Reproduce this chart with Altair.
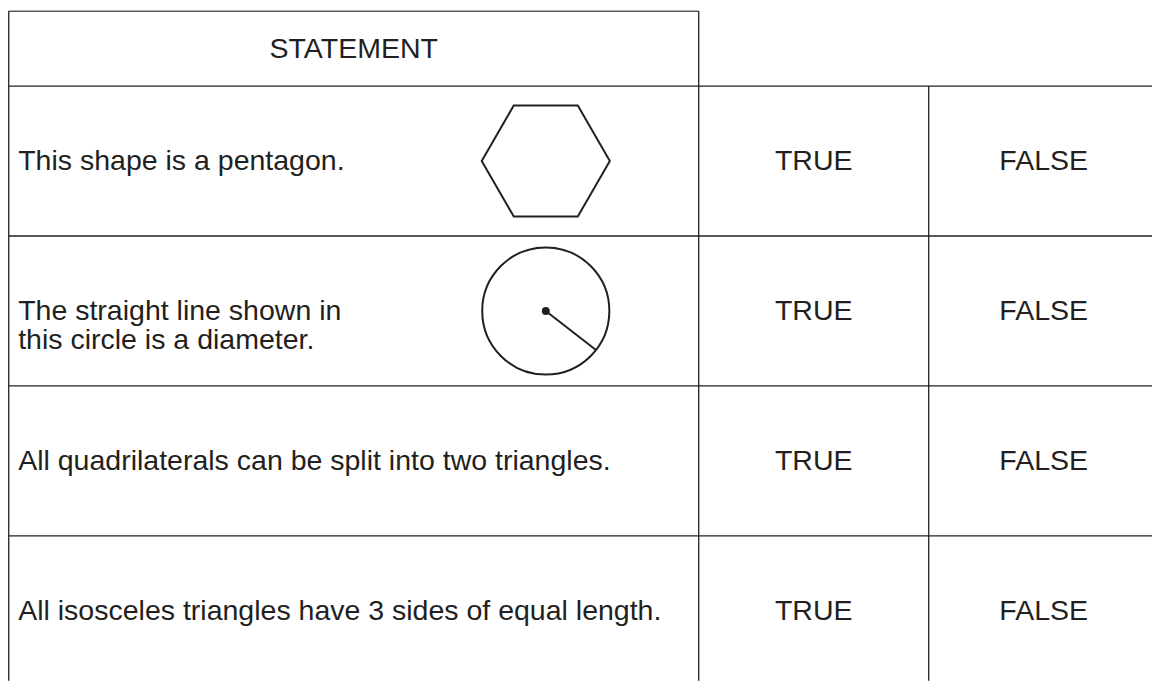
import altair as alt
import pandas as pd

# ---------------- content ----------------
header = "STATEMENT"
statements = [
    "This shape is a pentagon.",
    "The straight line shown in\nthis circle is a diameter.",
    "All quadrilaterals can be split into two triangles.",
    "All isosceles triangles have 3 sides of equal length.",
]
shapes = ["hexagon", "circle", "", ""]
choices = ["TRUE", "FALSE"]

# ---------------- layout (table units) ----------------
COL_WIDTHS = [3, 1, 1]      # statement column, TRUE column, FALSE column
HEADER_H = 0.5
ROW_H = 1.0
SHAPE_X = 2.335             # horizontal place of the drawings inside the statement column

PX_PER_COL = 231.6
PX_PER_ROW = 151.0
W, H = 1152, 675
OFF = 0.75

INK = "#231f20"
FONT = "Liberation Sans"
FS = 28.7

col_edges = [0]
for w in COL_WIDTHS:
    col_edges.append(col_edges[-1] + w)
row_edges = [0, HEADER_H]
for _ in statements:
    row_edges.append(row_edges[-1] + ROW_H)
bottom = row_edges[-1]
right = col_edges[-1]

# grid segments
segs = []
segs.append(dict(x=col_edges[0], x2=col_edges[0], y=0, y2=bottom))
segs.append(dict(x=col_edges[1], x2=col_edges[1], y=0, y2=bottom))
segs.append(dict(x=col_edges[2], x2=col_edges[2], y=HEADER_H, y2=bottom))
segs.append(dict(x=col_edges[3], x2=col_edges[3], y=HEADER_H, y2=bottom))
segs.append(dict(x=col_edges[0], x2=col_edges[1], y=0, y2=0))
for r in row_edges[1:]:
    segs.append(dict(x=col_edges[0], x2=right, y=r, y2=r))
seg_df = pd.DataFrame(segs)

row_centers = [(row_edges[i + 1] + row_edges[i + 2]) / 2 for i in range(len(statements))]

stmt_df = pd.DataFrame({"x": col_edges[0], "y": row_centers, "t": statements, "shape": shapes})
head_df = pd.DataFrame({"x": [(col_edges[0] + col_edges[1]) / 2], "y": [HEADER_H / 2], "t": [header]})
opt_rows = []
for yc in row_centers:
    for j, c in enumerate(choices):
        opt_rows.append(dict(x=(col_edges[j + 1] + col_edges[j + 2]) / 2, y=yc, t=c))
opt_df = pd.DataFrame(opt_rows)
shape_df = stmt_df.assign(x=SHAPE_X)

xs = alt.Scale(domain=[-OFF / PX_PER_COL, (W - OFF) / PX_PER_COL], nice=False, zero=False)
ys = alt.Scale(domain=[-OFF / PX_PER_ROW, (H - OFF) / PX_PER_ROW], nice=False, zero=False, reverse=True)

X = lambda f="x": alt.X(f"{f}:Q", scale=xs, axis=None)
Y = lambda f="y": alt.Y(f"{f}:Q", scale=ys, axis=None)

rules = alt.Chart(seg_df).mark_rule(color=INK, strokeWidth=1.3, clip=True).encode(
    x=X(), x2="x2:Q", y=Y(), y2="y2:Q"
)

head_txt = alt.Chart(head_df).mark_text(
    font=FONT, fontSize=FS, color=INK, align="center", baseline="middle"
).encode(x=X(), y=Y(), text="t:N")

stmt_txt = alt.Chart(stmt_df).mark_text(
    font=FONT, fontSize=FS, color=INK, align="left", baseline="middle", dx=9.5,
    lineBreak="\n", lineHeight=29
).encode(x=X(), y=Y(), text="t:N")

opt_txt = alt.Chart(opt_df).mark_text(
    font=FONT, fontSize=FS, color=INK, align="center", baseline="middle"
).encode(x=X(), y=Y(), text="t:N")

HEX_PATH = "M-1,0 L-0.5,-0.866 L0.5,-0.866 L1,0 L0.5,0.866 L-0.5,0.866 Z"
CIRC_PATH = "M1,0 A1,1 0 1,1 -1,0 A1,1 0 1,1 1,0 M0,0 L0.79,0.613"

hexagon = alt.Chart(shape_df).transform_filter(alt.datum.shape == "hexagon").mark_point(
    shape=HEX_PATH, size=129 ** 2, filled=False, stroke=INK, strokeWidth=2, opacity=1,
    strokeJoin="miter"
).encode(x=X(), y=Y())

circle = alt.Chart(shape_df).transform_filter(alt.datum.shape == "circle").mark_point(
    shape=CIRC_PATH, size=128 ** 2, filled=False, stroke=INK, strokeWidth=2, opacity=1
).encode(x=X(), y=Y())

dot = alt.Chart(shape_df).transform_filter(alt.datum.shape == "circle").mark_point(
    shape="circle", size=64, filled=True, color=INK, opacity=1
).encode(x=X(), y=Y())

chart = alt.layer(rules, head_txt, stmt_txt, opt_txt, hexagon, circle, dot).properties(
    width=W, height=H, padding=0, background="white"
).configure_view(stroke=None)

chart.save("out.html", embed_options={"renderer": "svg", "actions": False})
